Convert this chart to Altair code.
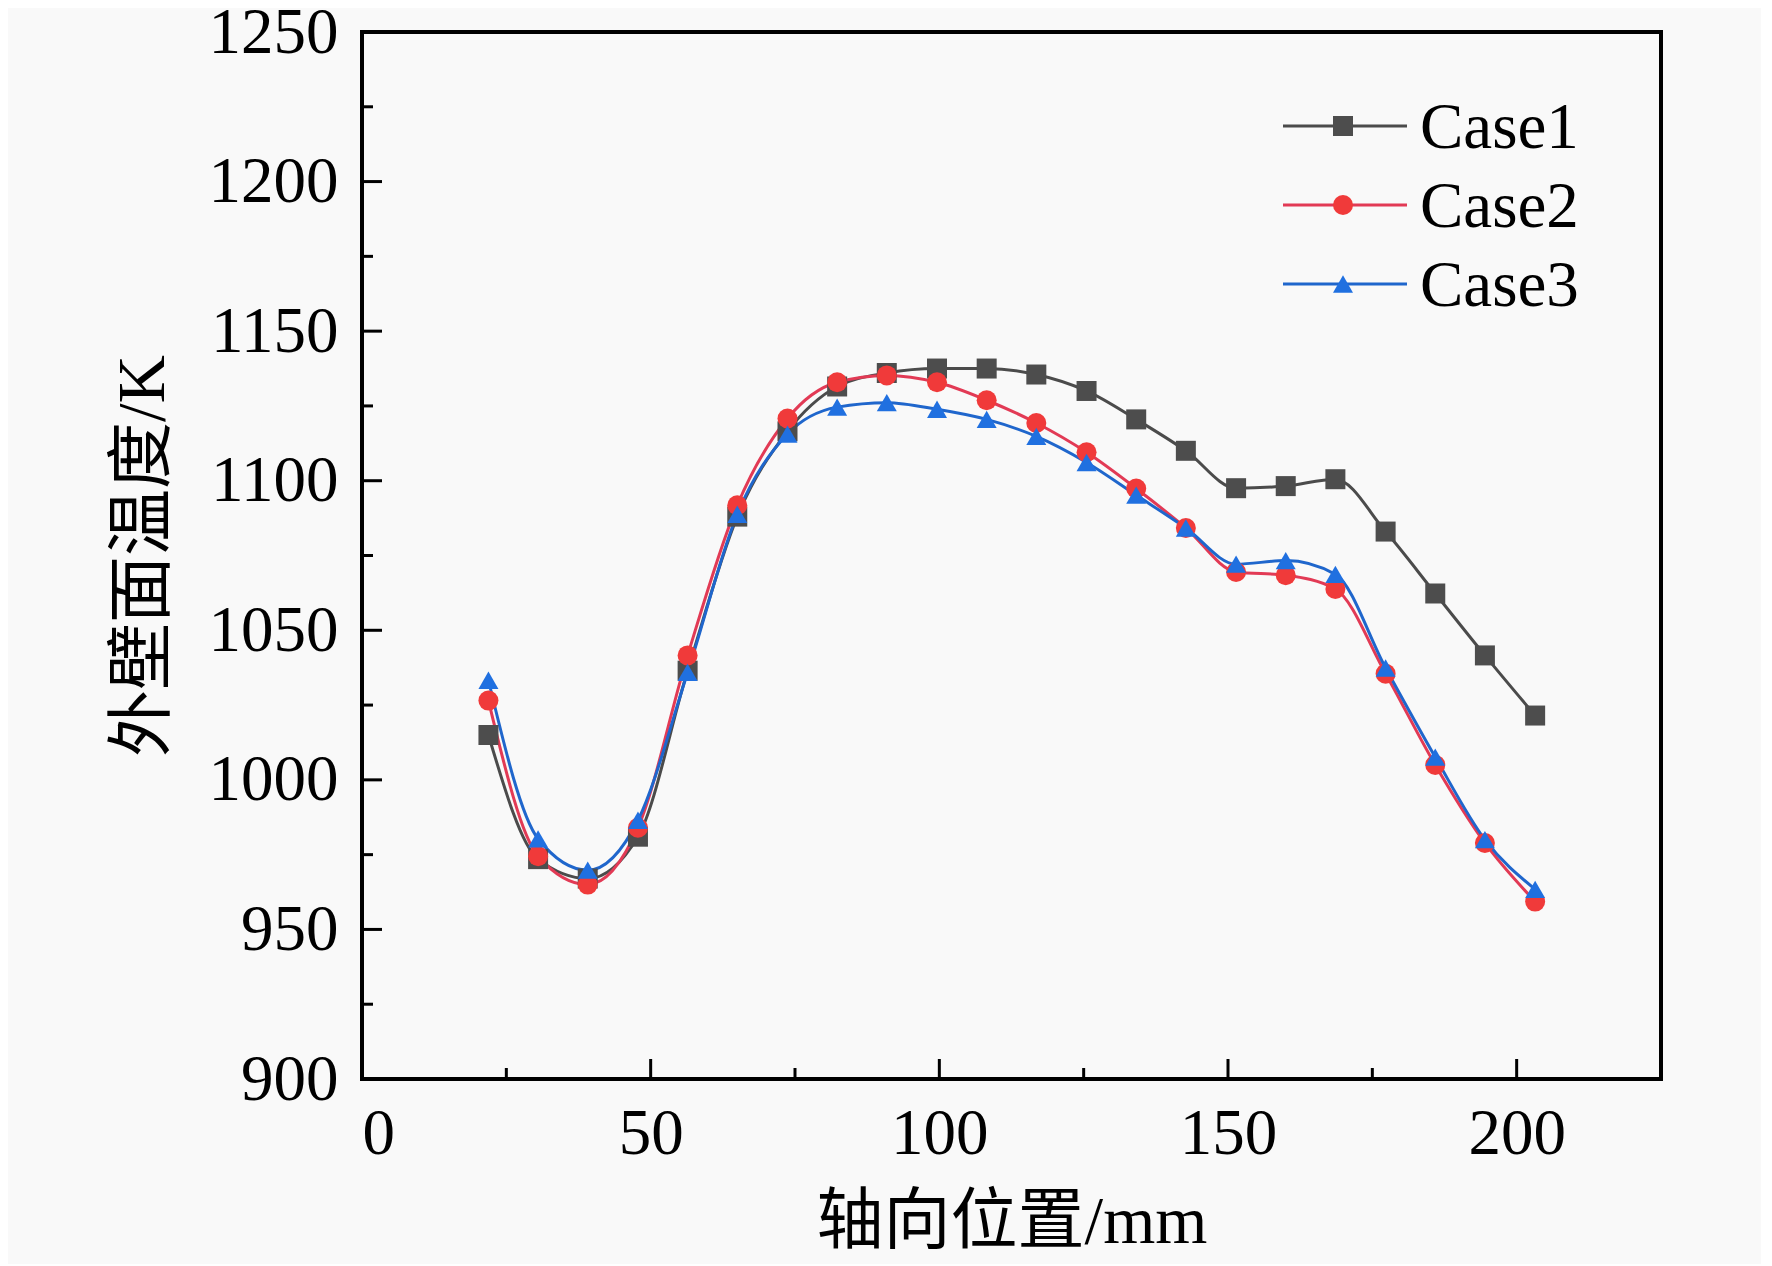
import altair as alt
import pandas as pd

# ---- data ----
x_pos = [21.9, 30.5, 39.1, 47.8, 56.4, 65.0, 73.7, 82.3, 90.9, 99.6, 108.2,
         116.8, 125.5, 134.1, 142.7, 151.4, 160.0, 168.6, 177.3, 185.9, 194.5, 203.2]
case1 = [1015.0, 973.5, 967.0, 981.0, 1036.5, 1088.0, 1116.5, 1131.5, 1136.0, 1137.5, 1137.5,
         1135.5, 1130.0, 1120.5, 1110.0, 1097.5, 1098.2, 1100.5, 1083.0, 1062.3, 1041.6, 1021.5]
case2 = [1026.5, 974.5, 965.0, 984.0, 1041.6, 1091.8, 1120.8, 1132.9, 1135.2, 1132.9, 1126.9,
         1119.3, 1109.5, 1097.4, 1084.2, 1069.5, 1068.4, 1063.8, 1035.5, 1005.0, 978.9, 959.3]
case3 = [1033.3, 980.3, 969.8, 986.5, 1035.9, 1088.8, 1115.6, 1124.6, 1126.1, 1123.9, 1120.5,
         1114.8, 1106.1, 1095.2, 1084.2, 1072.1, 1073.3, 1068.7, 1037.4, 1007.6, 980.0, 963.4]
series_names = ["Case1", "Case2", "Case3"]

y_major = [900, 950, 1000, 1050, 1100, 1150, 1200, 1250]
y_minor = [925, 975, 1025, 1075, 1125, 1175, 1225]
x_major = [0, 50, 100, 150, 200]
x_minor = [25, 75, 125, 175]

x_title = "轴向位置/mm"
y_title = "外壁面温度/K"

# ---- styles ----
line_colors = ["#4b4b4b", "#e23a55", "#1f66cc"]
marker_colors = ["#4d4d4d", "#f03a3a", "#2070e0"]
marker_shapes = ["square", "circle", "triangle-up"]
FONT = "Liberation Serif, Noto Sans CJK SC"
W, H = 1299, 1047
FS = 65
TFS = 67
MS = 400

rows = []
for name, vals in zip(series_names, [case1, case2, case3]):
    for xv, yv in zip(x_pos, vals):
        rows.append({"x": xv, "y": yv, "series": name})
df = pd.DataFrame(rows)

xs = alt.Scale(domain=[0, 225], nice=False, zero=False)
ys = alt.Scale(domain=[900, 1250], nice=False, zero=False)

stroke_enc = alt.Color("series:N", scale=alt.Scale(domain=series_names, range=line_colors), legend=None)
fill_enc = alt.Fill("series:N", scale=alt.Scale(domain=series_names, range=marker_colors), legend=None)
shape_enc = alt.Shape("series:N", scale=alt.Scale(domain=series_names, range=marker_shapes), legend=None)

x_axis = alt.Axis(values=x_major, ticks=False, domain=False, grid=False, format="d",
                  labelFont=FONT, labelFontSize=FS, labelColor="black", labelPadding=23,
                  title=x_title, titleFont=FONT, titleFontSize=TFS, titleFontWeight="normal",
                  titleColor="black", titleX=W / 2, titleY=143, titleBaseline="middle")
y_axis = alt.Axis(values=y_major, ticks=False, domain=False, grid=False, format="d",
                  labelFont=FONT, labelFontSize=FS, labelColor="black", labelPadding=24,
                  title=y_title, titleFont=FONT, titleFontSize=TFS, titleFontWeight="normal",
                  titleColor="black", titleAngle=-90, titleX=-219, titleY=H / 2,
                  titleBaseline="middle", titleAlign="center")

lines = alt.Chart(df).mark_line(interpolate="monotone", strokeWidth=3).encode(
    x=alt.X("x:Q", scale=xs, axis=x_axis),
    y=alt.Y("y:Q", scale=ys, axis=y_axis),
    color=stroke_enc,
    detail="series:N",
)

points = alt.Chart(df).mark_point(filled=True, size=MS, opacity=1).encode(
    x=alt.X("x:Q", scale=xs),
    y=alt.Y("y:Q", scale=ys),
    fill=fill_enc,
    shape=shape_enc,
)

tick_style = dict(color="black", strokeWidth=3)
ytm = alt.Chart(pd.DataFrame({"y": y_major})).mark_rule(**tick_style).encode(
    y=alt.Y("y:Q", scale=ys), x=alt.value(0), x2=alt.value(20))
ytn = alt.Chart(pd.DataFrame({"y": y_minor})).mark_rule(**tick_style).encode(
    y=alt.Y("y:Q", scale=ys), x=alt.value(0), x2=alt.value(11))
xtm = alt.Chart(pd.DataFrame({"x": x_major})).mark_rule(**tick_style).encode(
    x=alt.X("x:Q", scale=xs), y=alt.value(H), y2=alt.value(H - 20))
xtn = alt.Chart(pd.DataFrame({"x": x_minor})).mark_rule(**tick_style).encode(
    x=alt.X("x:Q", scale=xs), y=alt.value(H), y2=alt.value(H - 11))

# ---- legend (inside, top right) ----
legend_layers = []
for i, name in enumerate(series_names):
    ldf = pd.DataFrame({"series": [name]})
    ypix = 94 + i * 79
    legend_layers.append(
        alt.Chart(ldf).mark_rule(strokeWidth=3).encode(
            x=alt.value(921), x2=alt.value(1045), y=alt.value(ypix), color=stroke_enc))
    legend_layers.append(
        alt.Chart(ldf).mark_point(filled=True, size=MS, opacity=1).encode(
            x=alt.value(981), y=alt.value(ypix), fill=fill_enc, shape=shape_enc))
    legend_layers.append(
        alt.Chart(ldf).mark_text(align="left", baseline="middle", font=FONT, fontSize=FS,
                                 color="black").encode(
            x=alt.value(1058), y=alt.value(ypix + 2), text="series:N"))

chart = alt.layer(ytm, ytn, xtm, xtn, lines, points, *legend_layers).properties(
    width=W, height=H,
    padding={"left": 354, "top": 24, "right": 100, "bottom": 185},
    autosize=alt.AutoSizeParams(type="none"),
    background="#f9f9f9",
).configure_view(stroke="black", strokeWidth=4)

chart.save("out.html", embed_options={"renderer": "svg", "actions": False})
